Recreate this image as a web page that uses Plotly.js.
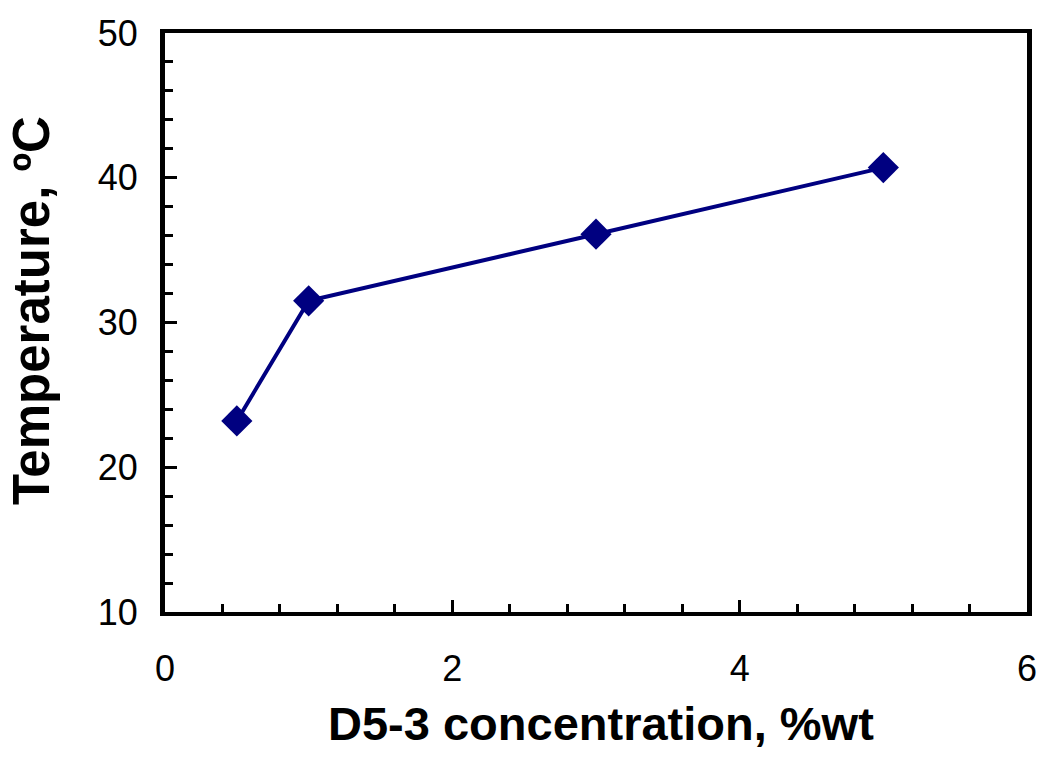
<!DOCTYPE html>
<html>
<head>
<meta charset="utf-8">
<script src="https://cdn.plot.ly/plotly-3.0.1.min.js"></script>
<style>body{margin:0;padding:0;background:#fff;}#chart{width:1050px;height:780px;}</style>
</head>
<body>
<div id="chart"></div>
<script>
const concentration = [0.5, 1, 3, 5];
const temperature = [23.2, 31.5, 36.1, 40.7];
const xTitle = '<b>D5-3 concentration, %wt</b>';
const yTitle = '<b>Temperature, ºC</b>';

const trace = {
  x: concentration,
  y: temperature,
  type: 'scatter',
  mode: 'lines+markers',
  line: {color: '#000080', width: 4},
  marker: {symbol: 'diamond', size: 24, color: '#000080'},
  showlegend: false
};

const W = 1050, H = 780;
const L = 165, R = 23, T = 33, B = 168;
const PW = W - L - R, PH = H - T - B;
const layout = {
  width: W,
  height: H,
  margin: {l: L, r: R, t: T, b: B},
  paper_bgcolor: '#ffffff',
  plot_bgcolor: '#ffffff',
  font: {family: 'Arial, "Liberation Sans", sans-serif', color: '#000'},
  xaxis: {
    range: [0, 6],
    dtick: 2,
    tick0: 0,
    ticks: 'inside',
    ticklen: 12,
    tickwidth: 3,
    tickcolor: '#000',
    showline: true,
    linecolor: '#000',
    linewidth: 4,
    mirror: true,
    showgrid: false,
    zeroline: false,
    tickfont: {size: 36},
    ticklabelstandoff: 22,
    minor: {dtick: 0.4, ticks: 'inside', ticklen: 8, tickwidth: 3, tickcolor: '#000', showgrid: false}
  },
  yaxis: {
    range: [10, 50],
    dtick: 10,
    tick0: 10,
    ticks: 'inside',
    ticklen: 12,
    tickwidth: 3,
    tickcolor: '#000',
    showline: true,
    linecolor: '#000',
    linewidth: 5,
    mirror: true,
    showgrid: false,
    zeroline: false,
    tickfont: {size: 36},
    ticklabelstandoff: 15,
    minor: {dtick: 2, ticks: 'inside', ticklen: 8, tickwidth: 3, tickcolor: '#000', showgrid: false}
  },
  annotations: [
    {text: xTitle, xref: 'paper', yref: 'paper', x: (601 - L) / PW, y: -(723 - (H - B)) / PH,
     xanchor: 'center', yanchor: 'middle', showarrow: false, font: {size: 47}},
    {text: yTitle, xref: 'paper', yref: 'paper', x: -(L - 31) / PW, y: ((H - B) - 311) / PH,
     xanchor: 'center', yanchor: 'middle', showarrow: false, textangle: -90, font: {size: 51}}
  ]
};

Plotly.newPlot('chart', [trace], layout, {displayModeBar: false, staticPlot: true});
</script>
</body>
</html>
